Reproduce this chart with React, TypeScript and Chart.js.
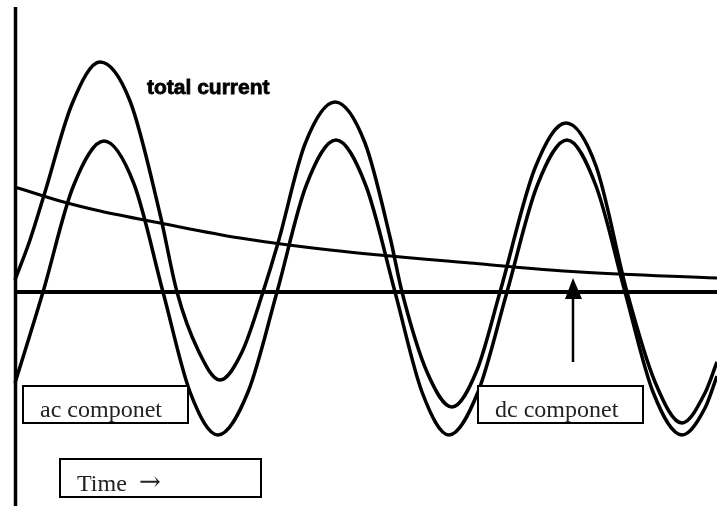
import { useEffect, useRef } from "react";
import { Chart, registerables } from "chart.js";

Chart.register(...registerables);

// ---- data (time in px-like units, current relative to the zero line) ----
const acTime = [15, 43, 73, 104, 134, 163, 190, 218, 248, 277, 306, 336, 366, 395, 422, 449, 478, 507, 537, 567, 596, 625, 653, 682, 705, 717];
const acValues = [-91, 0, 105, 151, 108, 0, -100, -143, -100, 0, 106, 152, 106, 0, -100, -143, -100, 0, 106, 152, 106, 0, -100, -143, -116, -84];

const totalTime = [15, 30, 45, 72, 100, 130, 160, 177, 198, 220, 242, 263, 278, 305, 335, 365, 390, 402, 427, 452, 477, 500, 535, 566, 596, 627, 655, 682, 705, 717];
const totalValues = [12, 52, 100, 188, 230, 191, 78, 0, -58, -88, -60, 0, 49, 148, 190, 149, 55, 0, -80, -115, -78, 0, 124, 169, 126, 0, -90, -131, -101, -70];

const dcTime = [15, 60, 100, 160, 240, 330, 470, 580, 717];
const dcValues = [105, 91, 81, 69, 54, 42, 29, 20, 14];

const titleText = "total current";
const acLabel = "ac componet";
const dcLabel = "dc componet";
const timeLabel = "Time \u2192";

const dcArrowTime = 573;
const dcArrowFrom = -70;
const dcArrowTip = 14;

export default function App() {
  const ref = useRef<HTMLCanvasElement>(null);

  useEffect(() => {
    if (!ref.current) return;
    const pts = (xs: number[], ys: number[]) => xs.map((x, i) => ({ x, y: ys[i] }));
    const lineDs = (label: string, data: any[], width: number) => ({
      label,
      data,
      borderColor: "#000",
      borderWidth: width,
      pointRadius: 0,
      cubicInterpolationMode: "monotone" as const,
      fill: false,
      clip: false as any,
    });

    const overlay = {
      id: "overlay",
      beforeDatasetsDraw(chart: any) {
        const ctx = chart.ctx;
        const xs = chart.scales.x;
        const ys = chart.scales.y;
        const y0 = ys.getPixelForValue(0);
        ctx.save();
        ctx.strokeStyle = "#000";
        ctx.lineWidth = 4;
        ctx.beginPath();
        ctx.moveTo(xs.getPixelForValue(15), y0);
        ctx.lineTo(xs.getPixelForValue(717), y0);
        ctx.stroke();
        ctx.lineWidth = 3.5;
        ctx.beginPath();
        ctx.moveTo(15.5, 7);
        ctx.lineTo(15.5, 506);
        ctx.stroke();
        ctx.restore();
      },
      afterDatasetsDraw(chart: any) {
        const ctx = chart.ctx;
        const xs = chart.scales.x;
        const ys = chart.scales.y;
        ctx.save();
        // arrow pointing at dc component
        const ax = xs.getPixelForValue(dcArrowTime);
        const aBottom = ys.getPixelForValue(dcArrowFrom);
        const aTip = ys.getPixelForValue(dcArrowTip);
        const headBase = aTip + 21;
        ctx.strokeStyle = "#000";
        ctx.fillStyle = "#000";
        ctx.lineWidth = 2.5;
        ctx.beginPath();
        ctx.moveTo(ax, aBottom);
        ctx.lineTo(ax, headBase);
        ctx.stroke();
        ctx.beginPath();
        ctx.moveTo(ax, aTip);
        ctx.lineTo(ax - 8, headBase);
        ctx.lineTo(ax + 9, headBase);
        ctx.closePath();
        ctx.fill();

        // title
        ctx.fillStyle = "#000";
        ctx.strokeStyle = "#000";
        ctx.lineWidth = 0.8;
        ctx.font = "bold 21px 'Liberation Sans', Arial, sans-serif";
        ctx.textBaseline = "alphabetic";
        ctx.fillText(titleText, 147, 94);
        ctx.strokeText(titleText, 147, 94);

        // boxes
        const box = (x: number, y: number, w: number, h: number) => {
          ctx.fillStyle = "#fff";
          ctx.fillRect(x, y, w, h);
          ctx.strokeStyle = "#000";
          ctx.lineWidth = 2;
          ctx.strokeRect(x, y, w, h);
          ctx.fillStyle = "#222";
          ctx.font = "24px 'Liberation Serif', 'Times New Roman', serif";
        };
        box(23, 386, 165, 37);
        ctx.fillText(acLabel, 40, 417);
        box(478, 386, 165, 37);
        ctx.fillText(dcLabel, 495, 417);
        box(60, 459, 201, 38);
        const [timeWord, timeArrow] = timeLabel.split(" ");
        ctx.fillText(timeWord, 77, 491);
        ctx.font = "26px 'DejaVu Serif', 'Liberation Serif', serif";
        ctx.fillText(timeArrow, 139, 490);
        ctx.restore();
      },
    };

    const chart = new Chart(ref.current, {
      type: "line",
      data: {
        datasets: [
          lineDs("dc", pts(dcTime, dcValues), 3) as any,
          lineDs("ac", pts(acTime, acValues), 3.5) as any,
          lineDs("total", pts(totalTime, totalValues), 3.5) as any,
        ],
      },
      options: {
        responsive: false,
        animation: false,
        layout: { padding: { left: 15, right: 0, top: 8, bottom: 6 } },
        plugins: { legend: { display: false }, tooltip: { enabled: false } },
        scales: {
          x: { type: "linear", min: 15, max: 717, display: false },
          y: { min: -208, max: 284, display: false },
        },
      },
      plugins: [overlay],
    });
    return () => chart.destroy();
  }, []);

  return (
    <div style={{ position: "absolute", left: 0, top: 0, width: 717, height: 506, background: "#fff" }}>
      <canvas ref={ref} width={717} height={506} style={{ display: "block" }} />
    </div>
  );
}
